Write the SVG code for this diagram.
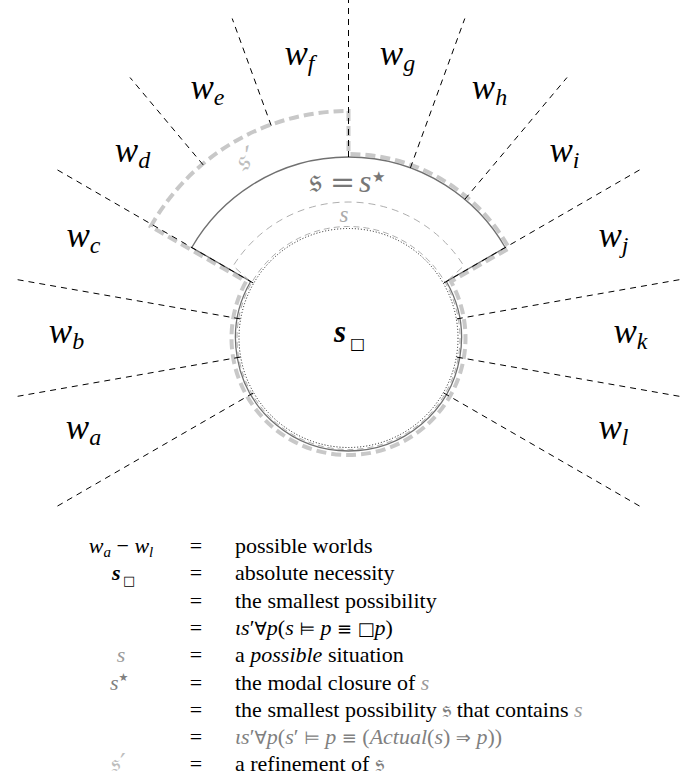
<svg xmlns="http://www.w3.org/2000/svg" width="682" height="781" viewBox="0 0 682 781">
<style>
.ray{stroke:#000;stroke-width:1;stroke-dasharray:6 5;fill:none}
.lbl{font-family:"Liberation Serif","DejaVu Serif",serif;font-style:italic;font-size:35px;fill:#000;text-anchor:middle}
.sub{font-size:24px}
.leg{font-family:"Liberation Serif","DejaVu Serif",serif;font-size:22px;fill:#000}
.it{font-style:italic}
.frak{font-family:"DejaVu Serif","DejaVu Sans","Noto Sans",serif;font-style:normal;font-size:25px}
.sym{font-family:"DejaVu Sans",sans-serif;font-style:normal;font-size:18px}
.g1{fill:#9a9a9a}
.g2{fill:#808080}
.g3{fill:#bdbdbd}
</style>
<rect width="682" height="781" fill="#fff"/>
<g id="s-prime-region">
<path d="M348.5 111 L348.5 154 A184 184 0 0 1 509.1 248.2 L451 281.6 A117 117 0 1 1 246 281.6 L150.7 226.5 A227 227 0 0 1 348.5 111 Z" fill="none" stroke="#c8c8c8" stroke-width="4" stroke-dasharray="10 5"/>
</g>
<g id="s-region">
<circle cx="348.5" cy="338" r="111.5" fill="none" stroke="#999" stroke-width="0.8" stroke-dasharray="6 4"/>
<path d="M249.8 281 L233.2 265.9 A136 136 0 0 1 463.8 265.9 L447.2 281" fill="none" stroke="#999" stroke-width="0.8" stroke-dasharray="7 5"/>
</g>
<g id="s-star-region">
<path d="M250.64 281.5 L191.75 247.5 A181 181 0 0 1 505.25 247.5 L446.36 281.5 A113 113 0 1 1 250.64 281.5 Z" fill="none" stroke="#707070" stroke-width="1.3"/>
</g>
<g id="s-necessity">
<circle cx="348.5" cy="338" r="109.5" fill="none" stroke="#000" stroke-width="0.9" stroke-dasharray="1 2"/>
<text x="334" y="342" font-family="Liberation Serif, serif" font-size="31" font-weight="bold" font-style="italic">s</text>
<text x="350" y="349" font-family="DejaVu Sans, sans-serif" font-size="16">□</text>
</g>
<g id="rays">
<line class="ray" x1="348.5" y1="157" x2="348.5" y2="0"/>
<line class="ray" x1="410.4" y1="167.9" x2="464.8" y2="18.5"/>
<line class="ray" x1="464.8" y1="199.3" x2="567" y2="77.5"/>
<line class="ray" x1="443.8" y1="283" x2="642.9" y2="168"/>
<line class="ray" x1="456.8" y1="318.9" x2="683.3" y2="279"/>
<line class="ray" x1="456.8" y1="357.1" x2="683.3" y2="397"/>
<line class="ray" x1="443.8" y1="393" x2="642.9" y2="508"/>
<line class="ray" x1="271.2" y1="125.6" x2="232.2" y2="18.5"/>
<line class="ray" x1="203.2" y1="164.9" x2="130" y2="77.5"/>
<line class="ray" x1="253.2" y1="283" x2="54.1" y2="168"/>
<line class="ray" x1="240.2" y1="318.9" x2="13.7" y2="279"/>
<line class="ray" x1="240.2" y1="357.1" x2="13.7" y2="397"/>
<line class="ray" x1="253.2" y1="393" x2="54.1" y2="508"/>
</g>
<g id="world-labels">
<text class="lbl" x="83.5" y="439">w<tspan class="sub" dy="6">a</tspan></text>
<text class="lbl" x="66.5" y="343">w<tspan class="sub" dy="6">b</tspan></text>
<text class="lbl" x="83.5" y="247">w<tspan class="sub" dy="6">c</tspan></text>
<text class="lbl" x="132.5" y="162">w<tspan class="sub" dy="6">d</tspan></text>
<text class="lbl" x="207.5" y="99">w<tspan class="sub" dy="6">e</tspan></text>
<text class="lbl" x="299.5" y="65">w<tspan class="sub" dy="6">f</tspan></text>
<text class="lbl" x="397.5" y="65">w<tspan class="sub" dy="6">g</tspan></text>
<text class="lbl" x="489.5" y="99">w<tspan class="sub" dy="6">h</tspan></text>
<text class="lbl" x="564.5" y="162">w<tspan class="sub" dy="6">i</tspan></text>
<text class="lbl" x="613.5" y="247">w<tspan class="sub" dy="6">j</tspan></text>
<text class="lbl" x="630.5" y="343">w<tspan class="sub" dy="6">k</tspan></text>
<text class="lbl" x="613.5" y="439">w<tspan class="sub" dy="6">l</tspan></text>
</g>
<g id="region-labels">
<text x="309" y="192" font-family="DejaVu Serif, serif" font-size="34" fill="#777">𝔰</text>
<text x="342.5" y="192" font-family="DejaVu Serif, serif" font-size="30" fill="#777" text-anchor="middle">=</text>
<text x="359" y="192" font-family="Liberation Serif, serif" font-size="32" font-style="italic" fill="#777">s</text>
<text x="372" y="182" font-family="DejaVu Sans, sans-serif" font-size="15" fill="#777">★</text>
<text x="344" y="222" font-family="Liberation Serif, serif" font-size="23" font-style="italic" fill="#aaa" text-anchor="middle">s</text>
<text x="0" y="0" font-family="DejaVu Serif, serif" font-size="30" fill="#bdbdbd" transform="translate(242 172) rotate(-24)">𝔰′</text>
</g>
<g id="legend" class="leg">
<text x="121" y="553" text-anchor="middle" class="it">w<tspan style="font-size:15px" dy="4">a</tspan><tspan dy="-4" font-style="normal"> − </tspan>w<tspan style="font-size:15px" dy="4">l</tspan></text>
<text x="196" y="553" text-anchor="middle">=</text>
<text x="235" y="553">possible worlds</text>

<text x="112" y="580.3" font-weight="bold" class="it">s</text><text x="123" y="584.5" class="sym" style="font-size:13px">□</text>
<text x="196" y="580.3" text-anchor="middle">=</text>
<text x="235" y="580.3">absolute necessity</text>

<text x="196" y="607.6" text-anchor="middle">=</text>
<text x="235" y="607.6">the smallest possibility</text>

<text x="196" y="634.9" text-anchor="middle">=</text>
<text x="235" y="634.9"><tspan class="it">ιs</tspan>′<tspan class="sym">∀</tspan><tspan class="it">p</tspan>(<tspan class="it">s</tspan> <tspan class="sym">⊨</tspan> <tspan class="it">p</tspan> <tspan class="sym">≡</tspan> <tspan class="sym">□</tspan><tspan class="it">p</tspan>)</text>

<text x="121" y="662.2" text-anchor="middle" class="it g1">s</text>
<text x="196" y="662.2" text-anchor="middle">=</text>
<text x="235" y="662.2">a <tspan class="it">possible</tspan> situation</text>

<text x="110" y="689.5" class="it g2">s<tspan class="sym" style="font-size:11px" dy="-9">★</tspan></text>
<text x="196" y="689.5" text-anchor="middle">=</text>
<text x="235" y="689.5">the modal closure of <tspan class="it g1">s</tspan></text>

<text x="196" y="716.8" text-anchor="middle">=</text>
<text x="235" y="716.8">the smallest possibility <tspan class="frak g2">𝔰</tspan> that contains <tspan class="it g1">s</tspan></text>

<text x="196" y="744.1" text-anchor="middle">=</text>
<text x="235" y="744.1" class="g2"><tspan class="it">ιs</tspan>′<tspan class="sym">∀</tspan><tspan class="it">p</tspan>(<tspan class="it">s</tspan>′ <tspan class="sym">⊨</tspan> <tspan class="it">p</tspan> <tspan class="sym">≡</tspan> (<tspan class="it">Actual</tspan>(<tspan class="it">s</tspan>) <tspan class="sym">⇒</tspan> <tspan class="it">p</tspan>))</text>

<text x="111" y="771.4" class="frak g3">𝔰′</text>
<text x="196" y="771.4" text-anchor="middle">=</text>
<text x="235" y="771.4">a refinement of <tspan class="frak g2">𝔰</tspan></text>
</g>
</svg>
